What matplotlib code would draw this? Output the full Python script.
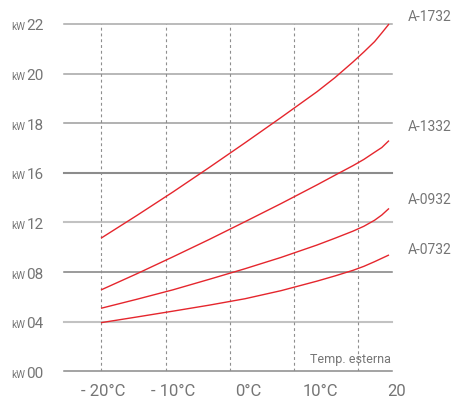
import numpy as np
import matplotlib
matplotlib.use("Agg")
import matplotlib.pyplot as plt
from matplotlib import transforms

# --- data -------------------------------------------------------------
temps = [-20, -15, -10, -5, 0, 5, 10, 12.5, 15, 16.5, 18, 19, 20]   # outdoor temp (°C)
a1732 = [10.73, 12.57, 14.46, 16.21, 17.21, 18.23, 19.27, 19.84, 20.47,
         20.87, 21.29, 21.64, 22.0]
a1332 = [6.56, 7.87, 9.23, 10.62, 12.06, 13.52, 15.03, 15.81, 16.29,
         16.54, 16.83, 17.02, 17.30]
a0932 = [5.08, 5.81, 6.57, 7.41, 8.27, 9.18, 10.18, 10.73, 11.30,
         11.69, 12.18, 12.60, 13.13]
a0732 = [3.92, 4.38, 4.85, 5.33, 5.85, 6.50, 7.27, 7.69, 8.14,
         8.46, 8.84, 9.11, 9.38]
series_names = ["A-1732", "A-1332", "A-0932", "A-0732"]

kw_levels = [0, 4, 8, 12, 16, 18, 20, 22]                    # y gridline values
kw_labels = ["00", "04", "08", "12", "16", "18", "20", "22"]
x_labels = ["- 20°C", "- 10°C", "0°C", "10°C", "20"]
x_label_pos = [-19.7, -10.0, 0.4, 10.4, 21.1]
vgrid_pos = [-20, -10.97, -2.08, 6.74, 15.63]
name_pos = [1.021, 0.704, 0.493, 0.348]                      # axes fraction

# --- styling ----------------------------------------------------------
RED = "#e5262d"
TXT = "#757575"
FONT = ["Roboto", "DejaVu Sans"]
hline_colors = ["#8a8a8a", "#c2c2c2", "#808080", "#c2c2c2",
                "#8c8c8c", "#9c9c9c", "#a4a4a4", "#a8a8a8"]
hline_widths = [1.1, 1.5, 1.1, 1.5, 1.5, 1.1, 1.1, 1.1]

W, H = 452, 398
fig = plt.figure(figsize=(W / 100, H / 100), dpi=100)
left, right, top, bottom = 64, 392, 24, 371.3
ax = fig.add_axes([left / W, 1 - bottom / H, (right - left) / W, (bottom - top) / H])

# kW axis: equal spacing between the labelled levels
pos = np.arange(len(kw_levels), dtype=float)
ax.set_yscale("function",
              functions=(lambda v: np.interp(v, kw_levels, pos),
                         lambda p: np.interp(p, pos, kw_levels)))
ax.set_ylim(0, 22)
ax.set_xlim(-20 + (left - 101) / 7.2, -20 + (right - 101) / 7.2)

for s in ax.spines.values():
    s.set_visible(False)
ax.set_xticks([])
ax.set_yticks([])

for lvl, c, lw in zip(kw_levels, hline_colors, hline_widths):
    ax.axhline(lvl, color=c, lw=lw, zorder=1, clip_on=False)

for xv in vgrid_pos:
    ax.axvline(xv, color="#8e8e8e", lw=0.8, dashes=(2.6, 2.6), zorder=1)

for ys in (a1732, a1332, a0932, a0732):
    ax.plot(temps, ys, color=RED, lw=1.0, zorder=3, clip_on=False,
            solid_capstyle="butt", solid_joinstyle="round")

# y labels: small "kW" followed by the value
ytr = transforms.blended_transform_factory(fig.transFigure, ax.transData)
off = transforms.ScaledTranslation(0, -6.5 / 100, fig.dpi_scale_trans)
for lvl, lab in zip(kw_levels, kw_labels):
    ax.text(25.5 / W, lvl, "kW", transform=ytr + off, ha="right", va="baseline",
            fontsize=7.2, color=TXT, family=FONT)
    ax.text(26.5 / W, lvl, lab, transform=ytr + off, ha="left", va="baseline",
            fontsize=11, color=TXT, family=FONT)

# x labels
xtr = ax.get_xaxis_transform()
for xp, lab in zip(x_label_pos, x_labels):
    ax.text(xp, -0.0711, lab, transform=xtr, ha="center", va="baseline",
            fontsize=12, color=TXT, family=FONT)

ax.text(0.998, 0.025, "Temp. esterna", transform=ax.transAxes, ha="right",
        va="baseline", fontsize=9, color=TXT, family=FONT)

for name, yp in zip(series_names, name_pos):
    ax.text((407.5 - left) / (right - left), yp, name, transform=ax.transAxes,
            ha="left", va="center", fontsize=10, color=TXT, family=FONT,
            clip_on=False)

fig.savefig("out.png", dpi=100)
